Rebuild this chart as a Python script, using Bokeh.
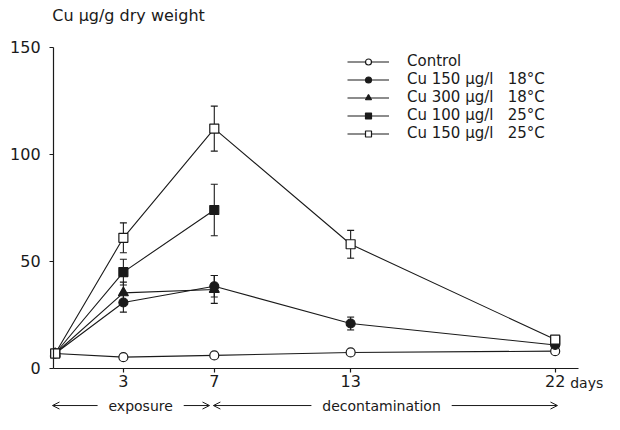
import math
from bokeh.plotting import figure
from bokeh.models import (ColumnDataSource, Whisker, TeeHead, Legend, LegendItem,
                          Label, Arrow, OpenHead, FixedTicker, Range1d)
from bokeh.embed import file_html
from bokeh.resources import INLINE

nan = float("nan")

# ---- data -------------------------------------------------------------
days = [0, 3, 7, 13, 22]
series_names = ["Control",
                "Cu 150 \u00b5g/l\u00a0\u00a0 18\u00b0C",
                "Cu 300 \u00b5g/l\u00a0\u00a0 18\u00b0C",
                "Cu 100 \u00b5g/l\u00a0\u00a0 25\u00b0C",
                "Cu 150 \u00b5g/l\u00a0\u00a0 25\u00b0C"]
control = [7, 5.3, 6.1, 7.5, 8.1]
cu150_18 = [7, 30.8, 38.4, 21, 11]
cu300_18 = [7, 35.3, 36.9, nan, nan]
cu100_25 = [7, 45, 74, nan, 13]
cu150_25 = [7, 61, 112, 58, 13.5]

control_err = [0, 0, 0, 0, 0]
cu150_18_err = [0, 4.5, 5, 3, 0]
cu300_18_err = [0, 5, 6.5, 0, 0]
cu100_25_err = [0, 6, 12, 0, 0]
cu150_25_err = [0, 7, 10.5, 6.5, 0]

x_ticks = [3, 7, 13, 22]
y_ticks = [0, 50, 100, 150]

# ---- figure -----------------------------------------------------------
FONT = "DejaVu Sans"
INK = "#1a1a1a"
W, H = 604, 414

p = figure(width=W, height=H, output_backend="svg", toolbar_location=None,
           x_range=Range1d(-2.407, 24.17), y_range=Range1d(-21.48, 171.8),
           min_border=0, min_border_left=0, min_border_right=0,
           min_border_top=0, min_border_bottom=0)
p.title.visible = False
p.grid.visible = False
p.outline_line_color = None
p.background_fill_color = "white"
p.border_fill_color = "white"

for ax in (p.xaxis[0], p.yaxis[0]):
    ax.axis_line_color = INK
    ax.axis_line_width = 1.2
    ax.major_tick_line_color = INK
    ax.major_tick_line_width = 1.2
    ax.minor_tick_line_color = None
    ax.major_label_text_font = FONT
    ax.major_label_text_font_size = "16px"
    ax.major_label_text_color = INK
    ax.major_tick_in = 0
    ax.major_tick_out = 4
p.xaxis.ticker = FixedTicker(ticks=x_ticks)
p.yaxis.ticker = FixedTicker(ticks=y_ticks)
p.xaxis.fixed_location = 0
p.yaxis.fixed_location = -0.07
p.xaxis.bounds = (-0.07, 23.03)
p.yaxis.bounds = (0, 150)
p.xaxis.major_label_standoff = 3
p.yaxis.major_label_standoff = 9

styles = [
    ("circle", "white"),
    ("circle", INK),
    ("triangle", INK),
    ("square", INK),
    ("square", "white"),
]
all_vals = [control, cu150_18, cu300_18, cu100_25, cu150_25]
all_errs = [control_err, cu150_18_err, cu300_18_err, cu100_25_err, cu150_25_err]

items = []
for name, vals, errs, (marker, fill) in zip(series_names, all_vals, all_errs, styles):
    src = ColumnDataSource(dict(x=days, y=vals))
    ln = p.line("x", "y", source=src, line_color=INK, line_width=1.1)
    wx, wu, wl = [], [], []
    for d, v, e in zip(days, vals, errs):
        if e and not math.isnan(v):
            wx.append(d); wu.append(v + e); wl.append(v - e)
    if wx:
        wsrc = ColumnDataSource(dict(base=wx, upper=wu, lower=wl))
        p.add_layout(Whisker(source=wsrc, base="base", upper="upper", lower="lower",
                             line_color=INK, line_width=1.1,
                             upper_head=TeeHead(size=7, line_color=INK, line_width=1.1),
                             lower_head=TeeHead(size=7, line_color=INK, line_width=1.1)))
    mk = p.scatter("x", "y", source=src, marker=marker,
                   size=9 if marker != "triangle" else 10,
                   fill_color=fill, line_color=INK, line_width=1.2)
    items.append(LegendItem(label=name, renderers=[ln, mk]))

legend = Legend(items=items, location=(347, 272), glyph_width=42, glyph_height=15,
                label_height=15, spacing=-6, padding=0, margin=0,
                label_text_font=FONT, label_text_font_size="15px", label_text_color=INK,
                label_standoff=18, border_line_alpha=0, background_fill_alpha=0)
p.add_layout(legend)

# ---- texts --------------------------------------------------------------
p.add_layout(Label(x=-0.13, y=164.9, text="Cu \u00b5g/g dry weight", text_font=FONT,
                   text_font_size="16px", text_baseline="middle", text_color=INK))
p.add_layout(Label(x=22.66, y=-7.0, text="days", text_font=FONT,
                   text_font_size="14px", text_baseline="middle", text_color=INK))

yb = -17.3
exp_c, dec_c = 3.76, 14.36
for xs, xe in [(exp_c, -0.12), (exp_c, 6.79), (dec_c, 6.96), (dec_c, 22.1)]:
    p.add_layout(Arrow(x_start=xs, y_start=yb, x_end=xe, y_end=yb, line_color=INK,
                       line_width=1, end=OpenHead(size=7, line_color=INK, line_width=1)))
p.add_layout(Label(x=exp_c, y=yb, text="\u00a0\u00a0exposure\u00a0\u00a0", text_font=FONT,
                   text_font_size="14px", text_align="center", text_baseline="middle",
                   text_color=INK, background_fill_color="white", padding=2))
p.add_layout(Label(x=dec_c, y=yb, text="\u00a0\u00a0decontamination\u00a0\u00a0", text_font=FONT,
                   text_font_size="14px", text_align="center", text_baseline="middle",
                   text_color=INK, background_fill_color="white", padding=2))

open("out.html", "w").write(file_html(p, INLINE))
